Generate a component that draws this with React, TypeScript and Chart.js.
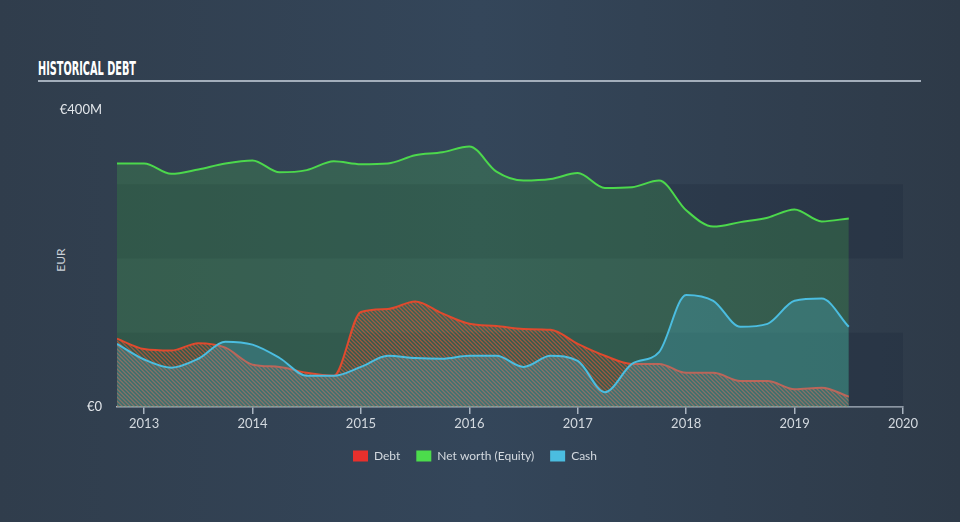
import React, { useEffect, useRef } from 'react';
import { Chart, registerables } from 'chart.js';

Chart.register(...registerables);

// Quarter-end dates as decimal years
const quarters = [
  2012.75, 2013.0, 2013.25, 2013.5, 2013.75, 2014.0, 2014.25, 2014.5, 2014.75,
  2015.0, 2015.25, 2015.5, 2015.75, 2016.0, 2016.25, 2016.5, 2016.75,
  2017.0, 2017.25, 2017.5, 2017.75, 2018.0, 2018.25, 2018.5, 2018.75,
  2019.0, 2019.25, 2019.5,
];

// Values in € millions
const debtValues = [
  92, 78, 76, 86, 80, 57, 54, 46, 42,
  128, 132, 142, 126, 112, 109, 105, 104,
  85, 69, 58, 58, 46, 46, 35, 35,
  24, 26, 14,
];
const equityValues = [
  328, 328, 314, 320, 328, 332, 316, 319, 331,
  327, 328, 339, 343, 351, 317, 305, 307,
  315, 295, 296, 305, 265, 243, 249, 255,
  266, 250, 254,
];
const cashValues = [
  85, 64, 53, 65, 88, 84, 66, 42, 42,
  54, 69, 66, 65, 69, 69, 54, 69,
  62, 20, 58, 74, 151, 143, 108, 112,
  143, 146, 108,
];

const xTickYears = [2013, 2014, 2015, 2016, 2017, 2018, 2019, 2020];
const yTickValues = [0, 400];
const bandRanges = [
  [0, 100],
  [200, 300],
];

const seriesNames = ['Debt', 'Net worth (Equity)', 'Cash'];
const seriesColors = ['#e8302c', '#4cdc4c', '#4bbde0'];

function makeHatch(): CanvasPattern | string {
  const c = document.createElement('canvas');
  c.width = 4;
  c.height = 4;
  const g = c.getContext('2d');
  if (!g) return 'rgba(226,84,52,0.3)';
  g.strokeStyle = 'rgba(232,88,52,0.6)';
  g.lineWidth = 1.3;
  g.beginPath();
  g.moveTo(0, 0);
  g.lineTo(4, 4);
  g.moveTo(-1, 3);
  g.lineTo(1, 5);
  g.moveTo(3, -1);
  g.lineTo(5, 1);
  g.stroke();
  const p = g.createPattern(c, 'repeat');
  return p || 'rgba(226,84,52,0.3)';
}

const bandPlugin = {
  id: 'bands',
  beforeDatasetsDraw(chart: any) {
    const { ctx, chartArea, scales } = chart;
    const y = scales.y;
    ctx.save();
    ctx.fillStyle = 'rgba(22,32,48,0.2)';
    bandRanges.forEach(([a, b]) => {
      const top = y.getPixelForValue(b);
      const bottom = y.getPixelForValue(a);
      ctx.fillRect(chartArea.left, top, chartArea.right - chartArea.left, bottom - top);
    });
    ctx.restore();
  },
};

export default function App() {
  const ref = useRef<HTMLCanvasElement>(null);

  useEffect(() => {
    document.body.style.margin = '0';
    const canvas = ref.current;
    if (!canvas) return;
    const hatch = makeHatch();
    const toPts = (vals: number[]) => quarters.map((q, i) => ({ x: q, y: vals[i] }));

    const chart = new Chart(canvas, {
      type: 'line',
      data: {
        datasets: [
          {
            label: seriesNames[0],
            data: toPts(debtValues),
            borderColor: '#e04a2e',
            backgroundColor: hatch as any,
            fill: 'origin',
            borderWidth: 2,
            pointRadius: 0,
            cubicInterpolationMode: 'monotone',
            order: 1,
          },
          {
            label: seriesNames[1],
            data: toPts(equityValues),
            borderColor: '#4cd84c',
            backgroundColor: 'rgba(76,216,76,0.2)',
            fill: 'origin',
            borderWidth: 2,
            pointRadius: 0,
            cubicInterpolationMode: 'monotone',
            order: 2,
          },
          {
            label: seriesNames[2],
            data: toPts(cashValues),
            borderColor: '#4bbde0',
            backgroundColor: 'rgba(76,189,224,0.25)',
            fill: 'origin',
            borderWidth: 2,
            pointRadius: 0,
            cubicInterpolationMode: 'monotone',
            order: 0,
          },
        ],
      },
      options: {
        animation: false,
        responsive: false,
        maintainAspectRatio: false,
        layout: { padding: { left: 47, right: 57, top: 110, bottom: 50 } },
        plugins: {
          tooltip: { enabled: false },
          legend: {
            position: 'bottom',
            labels: {
              boxWidth: 15,
              boxHeight: 11,
              padding: 16,
              color: '#d3d9df',
              font: { family: 'Lato, "Open Sans", sans-serif', size: 12 },
              generateLabels: () =>
                seriesNames.map((n, i) => ({
                  text: n,
                  fillStyle: seriesColors[i],
                  strokeStyle: seriesColors[i],
                  lineWidth: 0,
                  fontColor: '#d3d9df',
                  datasetIndex: i,
                  hidden: false,
                })),
            },
          },
        },
        scales: {
          x: {
            type: 'linear',
            min: quarters[0],
            max: 2020,
            afterBuildTicks: (s: any) => {
              s.ticks = xTickYears.map((v) => ({ value: v }));
            },
            afterFit: (s: any) => {
              s.height = 27;
            },
            grid: {
              display: true,
              drawOnChartArea: false,
              drawTicks: true,
              tickLength: 7,
              color: '#a9b4c0',
              lineWidth: 1.5,
            },
            border: { display: true, color: '#a9b4c0', width: 1.5 },
            ticks: {
              color: '#d3d9df',
              font: { family: 'Lato, "Open Sans", sans-serif', size: 13 },
              padding: 2,
              maxRotation: 0,
              autoSkip: false,
              callback: (v: any) => String(v),
            },
          },
          y: {
            min: 0,
            max: 400,
            afterBuildTicks: (s: any) => {
              s.ticks = yTickValues.map((v) => ({ value: v }));
            },
            afterFit: (s: any) => {
              s.width = 70;
            },
            grid: { display: false, drawTicks: false },
            border: { display: false },
            ticks: {
              color: '#e2e6ea',
              font: { family: 'Lato, "Open Sans", sans-serif', size: 13 },
              padding: 15,
              callback: (v: any) => (v === 0 ? '€0' : '€' + v + 'M'),
            },
          },
        },
      },
      plugins: [bandPlugin],
    });
    return () => chart.destroy();
  }, []);

  return (
    <div
      style={{
        position: 'fixed',
        left: 0,
        top: 0,
        width: 960,
        height: 522,
        overflow: 'hidden',
        background: 'linear-gradient(90deg, #303d4c 0%, #34465a 50%, #2e3a48 100%)',
      }}
    >
      <div
        style={{
          position: 'absolute',
          left: 38,
          top: 57,
          fontFamily: '"Liberation Sans Narrow", "DejaVu Sans Condensed", sans-serif',
          fontWeight: 700,
          fontSize: 19,
          color: '#ffffff',
          transform: 'scaleX(0.57)',
          transformOrigin: 'left top',
          whiteSpace: 'nowrap',
          lineHeight: '22px',
        }}
      >
        HISTORICAL DEBT
      </div>
      <div
        style={{
          position: 'absolute',
          left: 38,
          top: 80,
          width: 883,
          height: 2,
          background: '#a3aebb',
        }}
      />
      <div
        style={{
          position: 'absolute',
          left: 52,
          top: 252,
          width: 16,
          height: 16,
          fontFamily: 'Lato, "Open Sans", sans-serif',
          fontSize: 12,
          color: '#c9d0d7',
          transform: 'rotate(-90deg)',
          whiteSpace: 'nowrap',
          display: 'flex',
          alignItems: 'center',
          justifyContent: 'center',
        }}
      >
        EUR
      </div>
      <canvas ref={ref} width={960} height={522} style={{ position: 'absolute', left: 0, top: 0 }} />
    </div>
  );
}
